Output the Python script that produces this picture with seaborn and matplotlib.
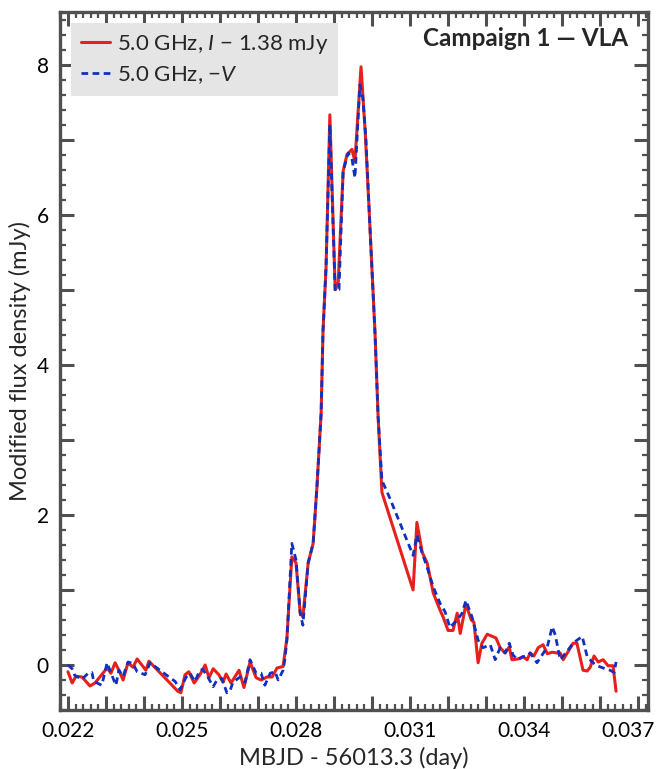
import numpy as np
import pandas as pd
import seaborn as sns
import matplotlib.pyplot as plt
from matplotlib.ticker import MultipleLocator, FuncFormatter
from matplotlib.transforms import ScaledTranslation

# Stokes I (minus 1.38 mJy) at 5.0 GHz
t_i = [0.02200, 0.02211, 0.02221, 0.02237, 0.02258, 0.02271, 0.02303, 0.02313, 0.02324,
       0.02334, 0.02345, 0.02358, 0.02371, 0.02382, 0.02405, 0.02413, 0.02489, 0.02497,
       0.02508, 0.02518, 0.02532, 0.02547, 0.02561, 0.02571, 0.02582, 0.02597, 0.02608,
       0.02616, 0.02629, 0.02650, 0.02663, 0.02679, 0.02695, 0.02708, 0.02724, 0.02737,
       0.02750, 0.02766, 0.02776, 0.02789, 0.02800, 0.02811, 0.02818, 0.02832, 0.02845,
       0.02855, 0.02866, 0.02871, 0.02879, 0.02889, 0.02903, 0.02911, 0.02924, 0.02934,
       0.02947, 0.02955, 0.02971, 0.02982, 0.02992, 0.03008, 0.03016, 0.03026, 0.03108,
       0.03118, 0.03132, 0.03145, 0.03161, 0.03179, 0.03187, 0.03200, 0.03213, 0.03224,
       0.03232, 0.03247, 0.03261, 0.03268, 0.03279, 0.03289, 0.03303, 0.03326, 0.03337,
       0.03350, 0.03361, 0.03368, 0.03384, 0.03397, 0.03408, 0.03416, 0.03426, 0.03437,
       0.03450, 0.03461, 0.03474, 0.03487, 0.03495, 0.03503, 0.03529, 0.03539, 0.03555,
       0.03566, 0.03574, 0.03584, 0.03595, 0.03608, 0.03621, 0.03634, 0.03642]
flux_i = [-0.09, -0.24, -0.15, -0.16, -0.28, -0.24, -0.04, -0.11, 0.03,
          -0.07, -0.20, 0.03, -0.03, 0.08, -0.07, 0.05, -0.35, -0.37,
          -0.13, -0.09, -0.24, -0.13, 0.00, -0.17, -0.05, -0.13, -0.23,
          -0.12, -0.24, -0.07, -0.30, 0.04, -0.17, -0.20, -0.16, -0.16,
          -0.04, -0.02, 0.36, 1.44, 1.36, 0.69, 0.64, 1.36, 1.62,
          2.37, 3.35, 4.45, 5.30, 7.33, 5.00, 5.10, 6.58, 6.80,
          6.87, 6.71, 7.97, 7.10, 6.10, 4.40, 3.30, 2.30, 1.00,
          1.90, 1.50, 1.36, 0.96, 0.73, 0.64, 0.46, 0.46, 0.69,
          0.42, 0.81, 0.60, 0.57, 0.03, 0.29, 0.41, 0.36, 0.23,
          0.16, 0.24, 0.07, 0.08, 0.11, 0.07, 0.16, 0.12, 0.23,
          0.27, 0.15, 0.17, 0.16, 0.16, 0.07, 0.29, 0.29, -0.07,
          -0.08, -0.03, 0.12, 0.04, 0.07, -0.01, -0.01, -0.35]

# Stokes -V at 5.0 GHz
t_v = [0.02200, 0.02211, 0.02218, 0.02237, 0.02253, 0.02263, 0.02268, 0.02289, 0.02303,
       0.02308, 0.02326, 0.02334, 0.02345, 0.02358, 0.02371, 0.02382, 0.02403, 0.02416,
       0.02442, 0.02482, 0.02495, 0.02511, 0.02521, 0.02534, 0.02547, 0.02555, 0.02568,
       0.02582, 0.02592, 0.02605, 0.02618, 0.02626, 0.02634, 0.02653, 0.02666, 0.02679,
       0.02695, 0.02708, 0.02718, 0.02732, 0.02745, 0.02753, 0.02766, 0.02771, 0.02776,
       0.02789, 0.02800, 0.02811, 0.02818, 0.02832, 0.02845, 0.02855, 0.02866, 0.02871,
       0.02879, 0.02889, 0.02903, 0.02913, 0.02924, 0.02937, 0.02947, 0.02955, 0.02968,
       0.02976, 0.02984, 0.02992, 0.03008, 0.03016, 0.03026, 0.03047, 0.03108, 0.03118,
       0.03132, 0.03145, 0.03161, 0.03179, 0.03192, 0.03205, 0.03224, 0.03237, 0.03247,
       0.03263, 0.03279, 0.03292, 0.03311, 0.03324, 0.03337, 0.03350, 0.03361, 0.03371,
       0.03384, 0.03397, 0.03408, 0.03416, 0.03434, 0.03447, 0.03461, 0.03474, 0.03482,
       0.03495, 0.03511, 0.03526, 0.03539, 0.03553, 0.03566, 0.03579, 0.03592, 0.03608,
       0.03626, 0.03637, 0.03642]
flux_v = [0.00, -0.05, -0.14, -0.19, -0.11, -0.10, -0.22, -0.27, 0.03,
          -0.04, -0.27, -0.07, -0.15, 0.04, 0.02, -0.09, -0.13, 0.03,
          -0.07, -0.22, -0.33, -0.16, -0.11, -0.22, -0.07, -0.06, -0.16,
          -0.29, -0.20, -0.18, -0.37, -0.35, -0.23, -0.16, -0.23, 0.07,
          -0.11, -0.11, -0.27, -0.11, -0.09, -0.20, -0.07, 0.09, 0.33,
          1.62, 1.40, 0.69, 0.53, 1.36, 1.62, 2.37, 3.35, 4.45,
          5.30, 7.20, 4.98, 5.00, 6.58, 6.82, 6.75, 6.49, 7.73,
          7.55, 7.00, 6.10, 4.40, 3.30, 2.46, 2.22, 1.46, 1.73,
          1.49, 1.30, 1.04, 0.82, 0.71, 0.50, 0.60, 0.69, 0.86,
          0.64, 0.33, 0.23, 0.27, 0.07, 0.23, 0.16, 0.29, 0.13,
          0.07, 0.11, 0.12, 0.16, 0.03, 0.13, 0.24, 0.51, 0.40,
          0.07, 0.17, 0.27, 0.33, 0.38, 0.11, 0.04, -0.01, -0.04,
          -0.07, -0.10, 0.04]

label_i = "5.0 GHz, $I$ \u2212 1.38 mJy"
label_v = "5.0 GHz, \u2212$V$"

df_i = pd.DataFrame({"t": t_i, "flux": flux_i})
df_v = pd.DataFrame({"t": t_v, "flux": flux_v})

sns.set_style("ticks")
plt.rcParams['font.family'] = ['Lato', 'DejaVu Sans']
plt.rcParams['mathtext.fontset'] = 'custom'
plt.rcParams['mathtext.rm'] = 'Lato'
plt.rcParams['mathtext.it'] = 'Lato:italic'

fig = plt.figure(figsize=(6.57, 7.69), dpi=100)
ax = fig.add_axes([0.0913, 0.0767, 0.895, 0.9077])

sns.lineplot(data=df_i, x="t", y="flux", ax=ax, color="#e8201c", lw=2.2,
             sort=False, estimator=None, label=label_i)
sns.lineplot(data=df_v, x="t", y="flux", ax=ax, color="#1030c0", lw=2.0,
             sort=False, estimator=None, label=label_v, linestyle=(0, (2.4, 1.6)))

ax.set_xlim(0.02179, 0.03726)
ax.set_ylim(-0.6, 8.7)
ax.xaxis.set_major_locator(MultipleLocator(0.001))
ax.xaxis.set_minor_locator(MultipleLocator(0.0002))
ax.xaxis.set_major_formatter(FuncFormatter(
    lambda v, p: f"{v:.3f}" if round(v * 1000) % 3 == 1 else ""))
ax.yaxis.set_major_locator(MultipleLocator(1))
ax.yaxis.set_minor_locator(MultipleLocator(0.2))
ax.yaxis.set_major_formatter(FuncFormatter(
    lambda v, p: f"{int(round(v))}" if round(v) % 2 == 0 else ""))

gray = "#505050"
for s in ax.spines.values():
    s.set_linewidth(2.4)
    s.set_color(gray)
ax.tick_params(which="both", direction="in", top=True, right=True,
               color=gray, labelsize=15, labelcolor="black", pad=8)
ax.tick_params(which="major", length=10, width=2.2)
ax.tick_params(which="minor", length=4, width=1.6)

ax.set_xlabel("MBJD - 56013.3 (day)", fontsize=17, labelpad=4)
ax.set_ylabel("Modified flux density (mJy)", fontsize=17, labelpad=4)

leg = ax.legend(loc="upper left", fontsize=16, frameon=True, fancybox=False,
                handlelength=1.3, handletextpad=0.3, borderpad=0.45,
                labelspacing=0.35, borderaxespad=0.5)
leg.get_frame().set_facecolor("#e5e5e5")
leg.get_frame().set_edgecolor("none")
leg.get_frame().set_alpha(1)

ax.text(0.967, 0.978, "Campaign 1 \u2014 VLA", transform=ax.transAxes,
        ha="right", va="top", fontsize=17.5, fontweight="bold")

# keep the last x tick label inside the figure
fig.canvas.draw()
for tick in ax.xaxis.get_major_ticks():
    if abs(tick.get_loc() - 0.037) < 1e-6:
        lab = tick.label1
        lab.set_transform(lab.get_transform() +
                          ScaledTranslation(-7 / 72, 0, fig.dpi_scale_trans))

fig.savefig("out.png", dpi=100)
